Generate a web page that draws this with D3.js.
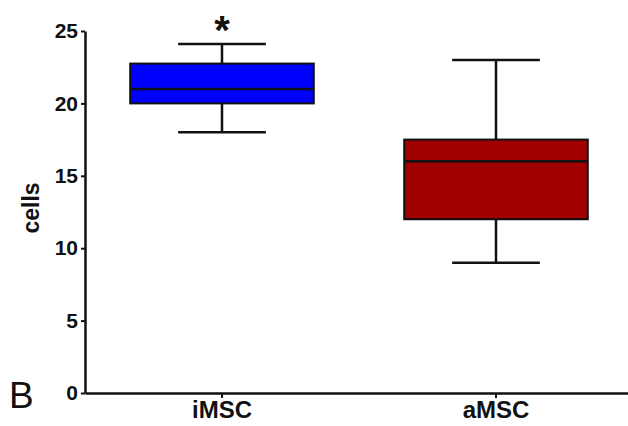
<!DOCTYPE html>
<html>
<head>
<meta charset="utf-8">
<script src="https://cdn.jsdelivr.net/npm/d3@7"></script>
<style>
  body { margin: 0; background: #fff; }
  text { font-family: "Liberation Sans", Arial, sans-serif; }
</style>
</head>
<body>
<svg id="chart" width="628" height="426"></svg>
<script>
// groups and box statistics
var groups = ["iMSC", "aMSC"];
var mins = [18, 9];
var q1s = [20, 12];
var medians = [21, 16];
var q3s = [22.75, 17.5];
var maxs = [24.1, 23];
var colors = ["#0000ff", "#a00000"];
var yTicks = [0, 5, 10, 15, 20, 25];

var data = groups.map((g, i) => ({
  group: g, min: mins[i], q1: q1s[i], median: medians[i], q3: q3s[i], max: maxs[i], color: colors[i]
}));

var svg = d3.select("#chart");
var margin = { left: 85, bottom: 393, top: 31 };

var x = d3.scaleBand().domain(groups).range([margin.left, 633]).padding(0);
var y = d3.scaleLinear().domain([0, 25]).range([margin.bottom, margin.top]);

var boxW = x.bandwidth() * 0.67;
var capW = x.bandwidth() * 0.16;

// boxes
var box = svg.selectAll("g.box").data(data).enter().append("g").attr("class", "box");
var cx = d => x(d.group) + x.bandwidth() / 2;

box.append("line")
  .attr("x1", cx).attr("x2", cx)
  .attr("y1", d => y(d.max)).attr("y2", d => y(d.min))
  .attr("stroke", "#111").attr("stroke-width", 2.5);

box.append("line")
  .attr("x1", d => cx(d) - capW).attr("x2", d => cx(d) + capW)
  .attr("y1", d => y(d.max)).attr("y2", d => y(d.max))
  .attr("stroke", "#111").attr("stroke-width", 2.5);

box.append("line")
  .attr("x1", d => cx(d) - capW).attr("x2", d => cx(d) + capW)
  .attr("y1", d => y(d.min)).attr("y2", d => y(d.min))
  .attr("stroke", "#111").attr("stroke-width", 2.5);

box.append("rect")
  .attr("x", d => cx(d) - boxW / 2)
  .attr("width", boxW)
  .attr("y", d => y(d.q3))
  .attr("height", d => y(d.q1) - y(d.q3))
  .attr("fill", d => d.color)
  .attr("stroke", "#111").attr("stroke-width", 2);

box.append("line")
  .attr("x1", d => cx(d) - boxW / 2).attr("x2", d => cx(d) + boxW / 2)
  .attr("y1", d => y(d.median)).attr("y2", d => y(d.median))
  .attr("stroke", "#111").attr("stroke-width", 2.5);

// axes
var yAxis = svg.append("g")
  .attr("transform", `translate(${margin.left},0)`)
  .call(d3.axisLeft(y).tickValues(yTicks).tickSize(4).tickPadding(3).tickSizeOuter(0));

var xAxis = svg.append("g")
  .attr("transform", `translate(0,${margin.bottom})`)
  .call(d3.axisBottom(x).tickSize(5).tickPadding(3).tickSizeOuter(0));

[yAxis, xAxis].forEach(a => {
  a.select(".domain").attr("stroke", "#111").attr("stroke-width", 2.5);
  a.selectAll(".tick line").attr("stroke", "#111").attr("stroke-width", 2);
  a.selectAll("text")
    .attr("fill", "#111")
    .style("font-family", "'Liberation Sans', Arial, sans-serif")
    .style("font-weight", "bold");
});
yAxis.selectAll("text").style("font-size", "21px");
xAxis.selectAll("text").style("font-size", "24px");

// y axis title
svg.append("text")
  .attr("transform", "translate(39,208) rotate(-90)")
  .attr("text-anchor", "middle")
  .style("font-size", "23px")
  .style("font-weight", "bold")
  .attr("fill", "#111")
  .text("cells");

// significance marker
svg.append("text")
  .attr("x", x("iMSC") + x.bandwidth() / 2)
  .attr("y", 44)
  .attr("text-anchor", "middle")
  .style("font-size", "40px")
  .style("font-weight", "bold")
  .attr("fill", "#111")
  .text("*");

// panel label
svg.append("text")
  .attr("x", 9)
  .attr("y", 408)
  .style("font-size", "37px")
  .attr("fill", "#111")
  .text("B");
</script>
</body>
</html>
